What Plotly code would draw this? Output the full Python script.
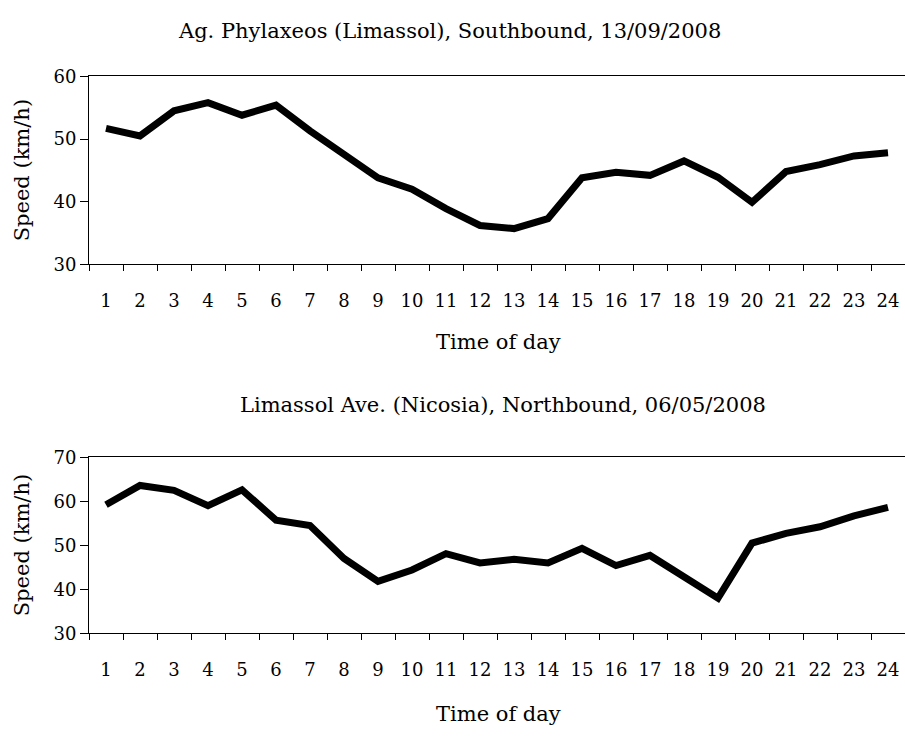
import plotly.graph_objects as go

# Hour of day (category labels on the x axes)
hours = ["1", "2", "3", "4", "5", "6", "7", "8", "9", "10", "11", "12",
         "13", "14", "15", "16", "17", "18", "19", "20", "21", "22", "23", "24"]

# Mean speed (km/h), Ag. Phylaxeos (Limassol), southbound, 13/09/2008
speed_limassol = [51.7, 50.5, 54.5, 55.8, 53.8, 55.4, 51.3, 47.5, 43.8, 42.0, 38.9, 36.2,
                  35.7, 37.3, 43.8, 44.7, 44.2, 46.5, 43.9, 39.9, 44.8, 45.9, 47.3, 47.8]

# Mean speed (km/h), Limassol Ave. (Nicosia), northbound, 06/05/2008
speed_nicosia = [59.2, 63.6, 62.5, 59.0, 62.6, 55.7, 54.5, 47.0, 41.8, 44.4, 48.1, 46.0,
                 46.8, 46.0, 49.3, 45.4, 47.7, 42.9, 38.0, 50.5, 52.7, 54.2, 56.7, 58.6]

titles = ["Ag. Phylaxeos (Limassol), Southbound, 13/09/2008",
          "Limassol Ave. (Nicosia), Northbound, 06/05/2008"]
y_ranges = [[30, 60], [30, 70]]

W, H = 905, 740
FONT = "DejaVu Serif"
TEXT_SIZE = 21
TICK_SIZE = 18

def py(pix):
    """Convert a pixel row (from top) into paper coordinates."""
    return (H - pix) / H

x_dom = [89 / W, 1.0]
y_doms = [[py(260.7), py(67.3)], [py(640.5), py(459.3)]]

fig = go.Figure()
for i, series in enumerate([speed_limassol, speed_nicosia]):
    suffix = "" if i == 0 else str(i + 1)
    fig.add_trace(go.Scatter(
        x=hours, y=series, mode="lines",
        line=dict(color="black", width=7),
        xaxis="x" + suffix, yaxis="y" + suffix,
        showlegend=False, hoverinfo="x+y",
    ))

text_font = dict(family=FONT, size=TEXT_SIZE, color="black")
tick_font = dict(family=FONT, size=TICK_SIZE, color="black")
layout = dict(
    width=W, height=H,
    margin=dict(l=0, r=0, t=0, b=0),
    paper_bgcolor="white", plot_bgcolor="white",
    font=tick_font,
    annotations=[],
)

title_pos = [(449, 20.5), (503, 405)]
xtitle_rows = [341, 724]
for i in range(2):
    suffix = "" if i == 0 else str(i + 1)
    layout["xaxis" + suffix] = dict(
        domain=x_dom, anchor="y" + suffix, type="category",
        range=[-0.5, 23.5], tickson="boundaries",
        ticks="outside", ticklen=6, tickcolor="black", tickwidth=1,
        showline=True, linecolor="black", linewidth=1, mirror=True,
        showgrid=False, zeroline=False, ticklabelstandoff=20,
        tickfont=tick_font,
    )
    layout["yaxis" + suffix] = dict(
        domain=y_doms[i], anchor="x" + suffix, range=y_ranges[i], dtick=10,
        ticks="outside", ticklen=8, tickcolor="black", tickwidth=1,
        showline=True, linecolor="black", linewidth=1,
        showgrid=False, zeroline=False, tickfont=tick_font,
    )
    yc = (y_doms[i][0] + y_doms[i][1]) / 2
    tx, ty = title_pos[i]
    layout["annotations"] += [
        dict(text=titles[i], xref="paper", yref="paper",
             x=tx / W, y=py(ty), xanchor="center", yanchor="middle",
             showarrow=False, font=text_font),
        dict(text="Time of day", xref="paper", yref="paper",
             x=498 / W, y=py(xtitle_rows[i]), xanchor="center", yanchor="middle",
             showarrow=False, font=text_font),
        dict(text="Speed (km/h)", xref="paper", yref="paper",
             x=22 / W, y=yc, xanchor="center", yanchor="middle", textangle=-90,
             showarrow=False, font=text_font),
    ]

fig.update_layout(**layout)
fig.write_html("out.html")
